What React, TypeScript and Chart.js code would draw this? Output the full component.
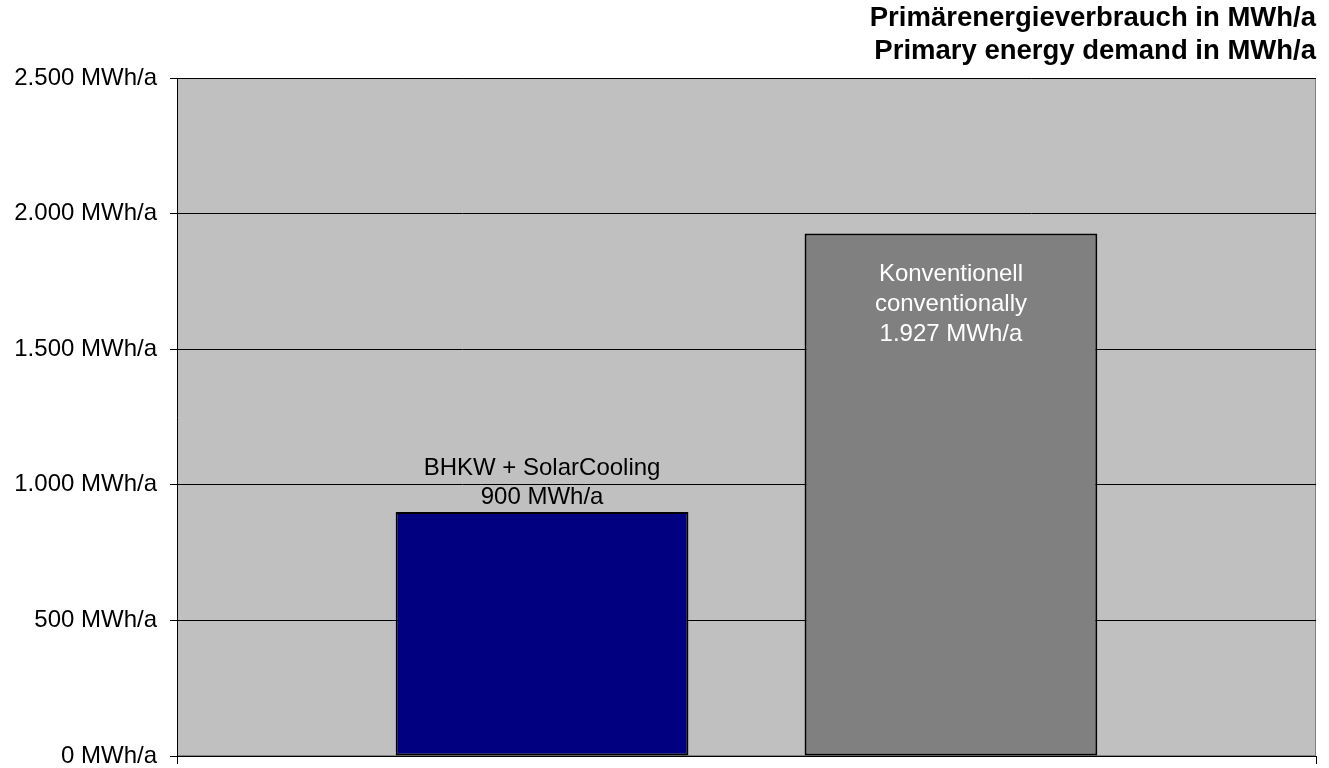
import React, { useEffect, useRef } from "react";
import { Chart, registerables } from "chart.js";

Chart.register(...registerables);

const categories = [""];
const seriesNames = ["BHKW + SolarCooling", "Konventionell"];
const seriesValues = [900, 1927];
const barLabels = [
  ["BHKW + SolarCooling", "900 MWh/a"],
  ["Konventionell", "conventionally", "1.927 MWh/a"],
];
const titleLines = ["Primärenergieverbrauch in MWh/a", "Primary energy demand in MWh/a"];
const yTicks = [0, 500, 1000, 1500, 2000, 2500];

const fmt = (v: number) =>
  String(v).replace(/\B(?=(\d{3})+(?!\d))/g, ".") + " MWh/a";

export default function App() {
  const ref = useRef<HTMLCanvasElement | null>(null);
  useEffect(() => {
    if (!ref.current) return;
    const plotBg = {
      id: "plotBg",
      beforeDraw(chart: any) {
        const { ctx, chartArea: a } = chart;
        ctx.save();
        ctx.fillStyle = "#C0C0C0";
        ctx.fillRect(a.left, a.top, a.right - a.left, a.bottom - a.top);
        ctx.strokeStyle = "#808080";
        ctx.lineWidth = 1;
        ctx.strokeRect(a.left + 0.5, a.top + 0.5, a.right - a.left - 1, a.bottom - a.top - 1);
        ctx.restore();
      },
    };
    const barText = {
      id: "barText",
      afterDatasetsDraw(chart: any) {
        const { ctx } = chart;
        ctx.save();
        ctx.font = "24px Arial, 'Liberation Sans', sans-serif";
        ctx.textAlign = "center";
        ctx.textBaseline = "middle";
        const e0 = chart.getDatasetMeta(0).data[0];
        if (e0) {
          ctx.fillStyle = "#000000";
          const lines = barLabels[0];
          lines.forEach((t, i) => {
            ctx.fillText(t, e0.x, e0.y - 15 - (lines.length - 1 - i) * 29);
          });
        }
        const e1 = chart.getDatasetMeta(1).data[0];
        if (e1) {
          ctx.fillStyle = "#FFFFFF";
          barLabels[1].forEach((t, i) => {
            ctx.fillText(t, e1.x, e1.y + 41 + i * 30);
          });
        }
        ctx.restore();
      },
    };
    const chart = new Chart(ref.current, {
      type: "bar",
      data: {
        labels: categories,
        datasets: [
          {
            label: seriesNames[0],
            data: [seriesValues[0]],
            backgroundColor: "#000080",
            borderColor: "#000000",
            borderWidth: 2,
            borderSkipped: false,
            categoryPercentage: 0.718,
            barPercentage: 0.716,
          },
          {
            label: seriesNames[1],
            data: [seriesValues[1]],
            backgroundColor: "#808080",
            borderColor: "#000000",
            borderWidth: 2,
            borderSkipped: false,
            categoryPercentage: 0.718,
            barPercentage: 0.716,
          },
        ],
      },
      options: {
        animation: false,
        responsive: false,
        devicePixelRatio: 1,
        layout: { padding: { left: 0, right: 13, top: 0, bottom: 0 } },
        plugins: {
          legend: { display: false },
          tooltip: { enabled: false },
          title: {
            display: true,
            text: titleLines,
            align: "end",
            color: "#000000",
            font: { family: "Arial, 'Liberation Sans', sans-serif", size: 27.5, weight: "bold", lineHeight: 1.2 },
            padding: { top: 2, bottom: 10 },
          },
        },
        scales: {
          x: {
            offset: true,
            ticks: { display: false },
            grid: {
              display: true,
              offset: true,
              drawOnChartArea: false,
              drawTicks: true,
              tickLength: 8,
              color: "#000000",
            },
            border: { display: true, color: "#000000", width: 1 },
            afterFit(scale: any) {
              scale.height = 12;
            },
          },
          y: {
            min: 0,
            max: 2500,
            afterBuildTicks(scale: any) {
              scale.ticks = yTicks.map((v) => ({ value: v }));
            },
            ticks: {
              color: "#000000",
              padding: 13,
              font: { family: "Arial, 'Liberation Sans', sans-serif", size: 24 },
              callback: (v: any) => fmt(Number(v)),
            },
            grid: {
              color: "#000000",
              lineWidth: 1,
              drawTicks: true,
              tickLength: 7,
            },
            border: { display: true, color: "#000000", width: 1 },
            afterFit(scale: any) {
              scale.width = 177;
              scale.paddingTop = 0;
              scale.paddingBottom = 0;
            },
          },
        },
      },
      plugins: [plotBg, barText],
    });
    return () => chart.destroy();
  }, []);
  return (
    <div style={{ position: "absolute", left: 0, top: 0, width: 1329, height: 768, background: "#FFFFFF" }}>
      <canvas ref={ref} width={1329} height={768} />
    </div>
  );
}
